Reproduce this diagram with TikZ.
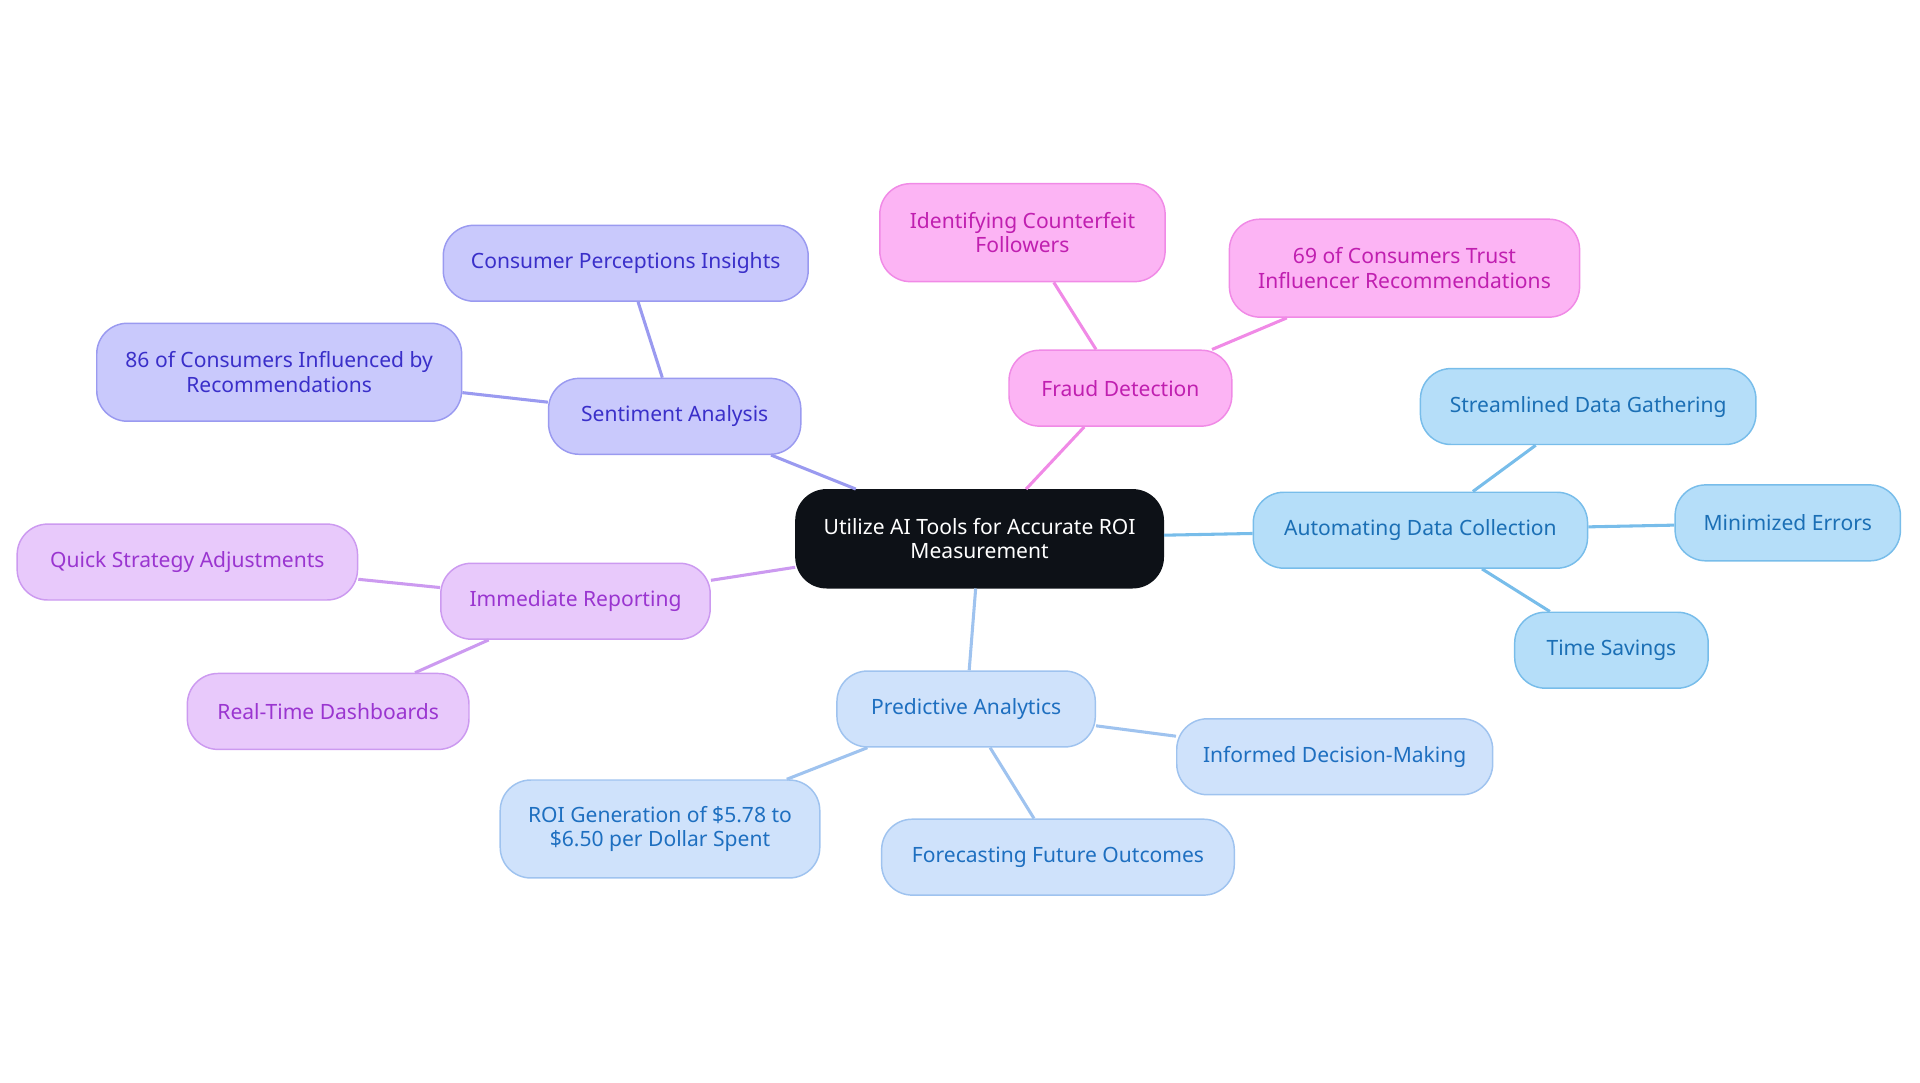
\documentclass[tikz,border=0pt]{standalone}
\usepackage{fontspec}
\setmainfont{Noto Sans}
\begin{document}
\begin{tikzpicture}[x=0.5pt,y=-0.5pt,
 box/.style={rounded corners=12.5pt,line width=0.6pt,align=center,inner sep=0pt,font=\fontsize{8.6}{10}\selectfont},
 sa/.style={box,fill=sac,draw=sad,text=sat},
 fd/.style={box,fill=fdc,draw=fdd,text=fdt},
 ad/.style={box,fill=adc,draw=add,text=adt},
 pa/.style={box,fill=pac,draw=pad,text=pat},
 ir/.style={box,fill=irc,draw=ird,text=irt},
 ln/.style={line width=1.25pt}]
\definecolor{sac}{HTML}{C9C9FC}\definecolor{sad}{HTML}{9A9AF0}\definecolor{sat}{HTML}{3A2FC9}
\definecolor{fdc}{HTML}{FCB4F4}\definecolor{fdd}{HTML}{F08AE6}\definecolor{fdt}{HTML}{C01FB0}
\definecolor{adc}{HTML}{B5DEF9}\definecolor{add}{HTML}{78BDEA}\definecolor{adt}{HTML}{1B6FB5}
\definecolor{pac}{HTML}{CFE2FB}\definecolor{pad}{HTML}{9FC3EF}\definecolor{pat}{HTML}{1E6FC0}
\definecolor{irc}{HTML}{E8C9FB}\definecolor{ird}{HTML}{CC9AF0}\definecolor{irt}{HTML}{9A35D0}
\definecolor{dk}{HTML}{0D1117}
\useasboundingbox (0,0) rectangle (1568,884);
\node[box,fill=dk,draw=dk,text=white,minimum width=300pt*0.5,minimum height=40pt] (c) at (800,440) {Utilize AI Tools for Accurate ROI\\Measurement};
\node[sa,minimum width=103pt,minimum height=31pt] (s) at (551,340) {Sentiment Analysis};
\node[sa,minimum width=149pt,minimum height=31pt] (s1) at (511,215) {Consumer Perceptions Insights};
\node[sa,minimum width=149pt,minimum height=40pt] (s2) at (228,304) {86 of Consumers Influenced by\\Recommendations};
\node[fd,minimum width=91pt,minimum height=31pt] (f) at (915,317) {Fraud Detection};
\node[fd,minimum width=116.5pt,minimum height=40pt] (f1) at (835,190) {Identifying Counterfeit\\Followers};
\node[fd,minimum width=143pt,minimum height=40pt] (f2) at (1147,219) {69 of Consumers Trust\\Influencer Recommendations};
\node[ad,minimum width=136.5pt,minimum height=31pt] (a) at (1160,433) {Automating Data Collection};
\node[ad,minimum width=137pt,minimum height=31pt] (a1) at (1297,332) {Streamlined Data Gathering};
\node[ad,minimum width=92pt,minimum height=31pt] (a2) at (1460,427) {Minimized Errors};
\node[ad,minimum width=79pt,minimum height=31pt] (a3) at (1316,531) {Time Savings};
\node[pa,minimum width=105.5pt,minimum height=31pt] (p) at (789,579) {Predictive Analytics};
\node[pa,minimum width=129pt,minimum height=31pt] (p1) at (1090,618) {Informed Decision-Making};
\node[pa,minimum width=144pt,minimum height=31pt] (p2) at (864,700) {Forecasting Future Outcomes};
\node[pa,minimum width=130.5pt,minimum height=40pt] (p3) at (539,677) {ROI Generation of \$5.78 to\\\$6.50 per Dollar Spent};
\node[ir,minimum width=110pt,minimum height=31pt] (i) at (470,491) {Immediate Reporting};
\node[ir,minimum width=139pt,minimum height=31pt] (i1) at (153,459) {Quick Strategy Adjustments};
\node[ir,minimum width=115pt,minimum height=31pt] (i2) at (268,581) {Real-Time Dashboards};
\begin{scope}[on background layer/.style={}]
\end{scope}
\begin{pgfinterruptboundingbox}\end{pgfinterruptboundingbox}
\draw[ln,draw=sad] (c) -- (s); \draw[ln,draw=sad] (s) -- (s1); \draw[ln,draw=sad] (s) -- (s2);
\draw[ln,draw=fdd] (c) -- (f); \draw[ln,draw=fdd] (f) -- (f1); \draw[ln,draw=fdd] (f) -- (f2);
\draw[ln,draw=add] (c) -- (a); \draw[ln,draw=add] (a) -- (a1); \draw[ln,draw=add] (a) -- (a2); \draw[ln,draw=add] (a) -- (a3);
\draw[ln,draw=pad] (c) -- (p); \draw[ln,draw=pad] (p) -- (p1); \draw[ln,draw=pad] (p) -- (p2); \draw[ln,draw=pad] (p) -- (p3);
\draw[ln,draw=ird] (c) -- (i); \draw[ln,draw=ird] (i) -- (i1); \draw[ln,draw=ird] (i) -- (i2);
\end{tikzpicture}
\end{document}
